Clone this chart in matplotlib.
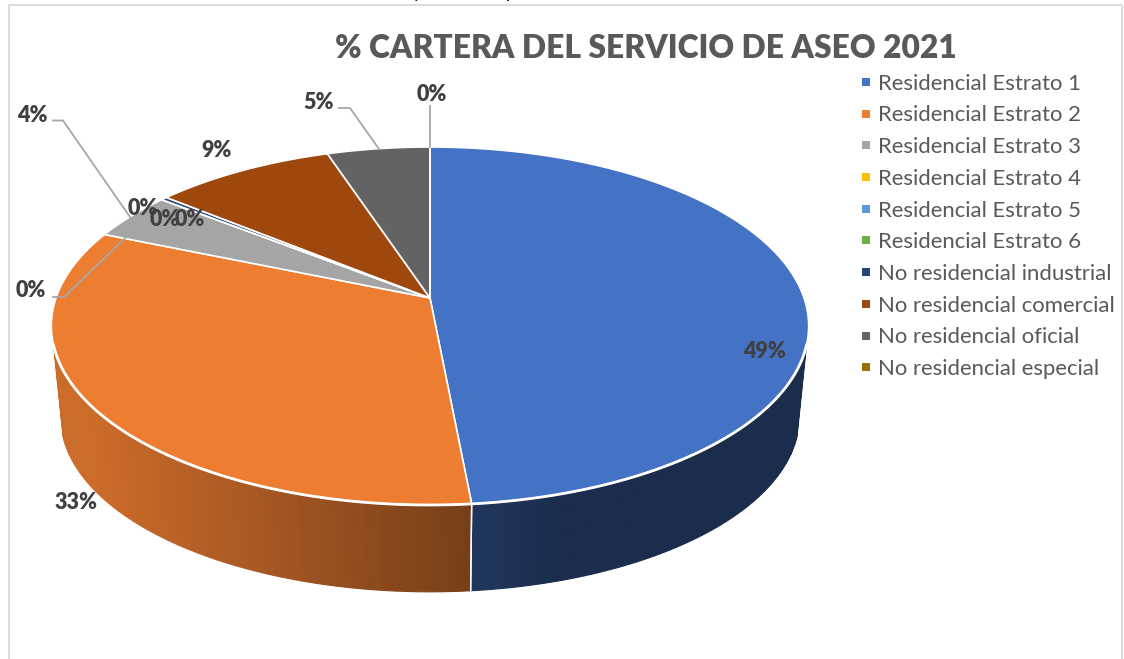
import numpy as np
import matplotlib
matplotlib.use("Agg")
import matplotlib.pyplot as plt
from matplotlib.patches import Polygon
from matplotlib.lines import Line2D

categories = ["Residencial Estrato 1", "Residencial Estrato 2", "Residencial Estrato 3",
              "Residencial Estrato 4", "Residencial Estrato 5", "Residencial Estrato 6",
              "No residencial industrial", "No residencial comercial",
              "No residencial oficial", "No residencial especial"]
values = [48.5, 32.8, 4.3, 0.0, 0.0, 0.0, 0.3, 9.0, 5.1, 0.0]
colors = ["#4472C4", "#ED7D31", "#A5A5A5", "#FFC000", "#5B9BD5",
          "#70AD47", "#264478", "#9E480E", "#636363", "#997300"]
title = "% CARTERA DEL SERVICIO DE ASEO 2021"

# layout (pixels)
label_pos = [(764, 352), (76, 502.5), (32, 115.5), (31, 290.5), (143, 208.5), (165, 219.5),
             (190, 219.5), (217, 150.5), (319, 102.5), (432, 94.5)]
leaders = {2: [(53, 120.5), (63, 120.5), (130, 217)],
           3: [(53, 297), (64, 297), (147, 217)],
           8: [(339, 108), (350, 108), (379, 149)],
           9: [(430, 106), (430, 147)]}
CX, CY, A, B, K = 430.0, 298.0, 374.0, 174.6, 0.1565
WALL_SCALE, WALL_CY = 0.975, 390.0


def top_xy(cw):
    """cw: clockwise angle from 12 o'clock, radians."""
    s, c = np.cos(cw), np.sin(cw)
    w = 1 + K * s
    return CX + A * c / w, CY - B * s / w


def wall_xy(cw):
    s, c = np.cos(cw), np.sin(cw)
    w = 1 + K * s
    return CX + WALL_SCALE * A * c / w, WALL_CY - WALL_SCALE * B * s / w


def shaded(hex_color, f):
    r, g, b = matplotlib.colors.to_rgb(hex_color)
    return (r * f, g * f, b * f)


fig = plt.figure(figsize=(11.24, 6.59), dpi=100, facecolor="white")
ax = fig.add_axes([0, 0, 1, 1])
ax.set_xlim(0, 1124)
ax.set_ylim(659, 0)
ax.axis("off")

# chart frame
ax.plot([9, 9, 1122, 1122], [659, 4.5, 4.5, 659], color="#D9D9D9", lw=1.3, zorder=1)

# cropped line of text above the chart
ax.text(417, -2, "y", fontsize=13, family="Lato", color="black", ha="center", va="baseline", clip_on=False)
ax.text(511, -2, "p", fontsize=13, family="Lato", color="black", ha="center", va="baseline", clip_on=False)

fracs = np.array(values) / np.sum(values)
edges = np.concatenate([[0], np.cumsum(fracs)]) * 2 * np.pi

# side wall (front part only)
vis_from, vis_to = np.deg2rad(105), np.deg2rad(255)
for i in range(len(values)):
    a0, a1 = max(edges[i], vis_from), min(edges[i + 1], vis_to)
    if a1 <= a0:
        continue
    ts = np.linspace(a0, a1, int(np.degrees(a1 - a0)) + 2)
    for t0, t1 in zip(ts[:-1], ts[1:]):
        tx0, ty0 = top_xy(t0)
        tx1, ty1 = top_xy(t1)
        bx0, by0 = wall_xy(t0)
        bx1, by1 = wall_xy(t1)
        xm = (tx0 + tx1) / 2
        if i == 0:
            f = np.interp(xm, [471, 560], [0.48, 0.39])
        else:
            f = np.interp(xm, [90, 471], [0.86, 0.50])
        col = shaded(colors[i], f)
        ax.add_patch(Polygon([(tx0, ty0), (tx1, ty1), (bx1, by1), (bx0, by0)],
                             closed=True, fc=col, ec=col, lw=0.8, zorder=2))
    # slice seam on the wall
    for t in (edges[i], edges[i + 1]):
        if vis_from < t < vis_to:
            p, q = top_xy(t), wall_xy(t)
            ax.plot([p[0], q[0]], [p[1], q[1]], color="white", lw=1.0, zorder=3)

# top surface
for i in range(len(values)):
    ts = np.linspace(edges[i], edges[i + 1], max(2, int(np.degrees(edges[i + 1] - edges[i])) + 2))
    x, y = top_xy(ts)
    pts = [(CX, CY)] + list(zip(x, y))
    ax.add_patch(Polygon(pts, closed=True, fc=colors[i], ec="white", lw=1.2,
                         joinstyle="round", zorder=4))

# white rim between the top surface and the wall
rim = np.linspace(vis_from, vis_to, 200)
ax.plot(*top_xy(rim), color="white", lw=2.0, zorder=4.5)

# leaders
for i, pts in leaders.items():
    ax.plot(*zip(*pts), color="#A6A6A6", lw=1.3, zorder=5)

# data labels
for v, (lx, ly) in zip(fracs * 100, label_pos):
    ax.text(lx, ly, f"{int(np.floor(v + 0.5 + 1e-9))}%", fontsize=15.5, fontweight="heavy", family="Lato",
            color="#404040", ha="center", va="center", zorder=6)

# title
ax.text(646, 48, title, fontsize=22.9, fontweight="heavy", family="Lato",
        color="#595959", ha="center", va="center", zorder=6)

# legend
handles = [Line2D([], [], ls="none", marker="s", ms=5.6, mfc=c, mec=c, mew=0) for c in colors]
leg = ax.legend(handles, categories, loc="upper left", bbox_to_anchor=(860 / 1124, 1 - 73.7 / 659),
                bbox_transform=fig.transFigure, frameon=False, labelspacing=0.53,
                handlelength=0.5, handletextpad=0.32, borderpad=0, borderaxespad=0,
                labelcolor="#595959", prop={"family": "Lato", "size": 15.9})
leg.set_zorder(6)

fig.savefig("out.png", dpi=100, facecolor="white")
